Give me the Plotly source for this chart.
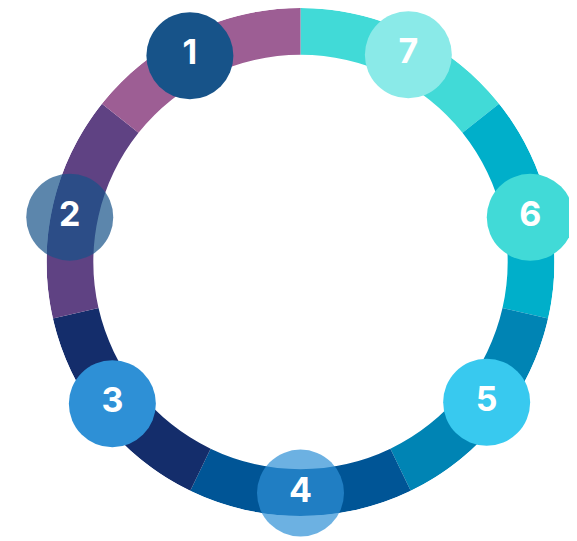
import plotly.graph_objects as go

# Ring segments, clockwise from the top (equal shares)
labels = ["7", "6", "5", "4", "3", "2", "1"]
segment_values = [1, 1, 1, 1, 1, 1, 1]
segment_colors = ["#41DAD7", "#00AFCA", "#0084B4", "#005596", "#142D6B", "#5F4283", "#9D5E94"]

# Numbered badges (angle clockwise from top in degrees, radius in ring units)
badge_angles = [27.5, 79.0, 127.0, 180.0, 233.0, 281.0, 331.8]
badge_radius = [234.5, 235.0, 234.0, 232.0, 236.5, 236.0, 235.0]
badge_colors = ["#8AEAE8", "#41DAD7", "#38C9EF", "rgba(46,144,214,0.7)",
                "#2E90D6", "rgba(23,83,137,0.7)", "#175389"]

INNER = 208
OUTER = 255

W, H = 577, 541
CX = 292.5          # polar centre in figure px (page body has an 8px margin)
RPX = 254           # polar radius in px

n = len(segment_values)
step = 360 / sum(segment_values)
seg_theta, acc = [], 0
for v in segment_values:
    seg_theta.append((acc + v / 2) * step)
    acc += v

fig = go.Figure()
fig.add_trace(go.Barpolar(
    theta=seg_theta,
    width=[v * step for v in segment_values],
    r=[OUTER - INNER] * n,
    base=INNER,
    marker=dict(color=segment_colors, line=dict(width=0)),
    hoverinfo="skip",
    showlegend=False,
))
fig.add_trace(go.Scatterpolar(
    theta=badge_angles,
    r=badge_radius,
    mode="markers+text",
    text=labels,
    textposition="middle center",
    textfont=dict(family="Inter", size=34, color="white", weight=700),
    marker=dict(size=87, color=badge_colors, line=dict(width=0)),
    cliponaxis=False,
    showlegend=False,
))

fig.update_layout(
    width=W, height=H, autosize=False,
    margin=dict(l=0, r=0, t=0, b=0),
    paper_bgcolor="white",
    polar=dict(
        domain=dict(x=[(CX - RPX) / W, (CX + RPX) / W],
                    y=[(H - 2 * RPX) / H, 1.0]),
        bgcolor="white",
        bargap=0,
        radialaxis=dict(range=[0, OUTER], visible=False, showgrid=False),
        angularaxis=dict(direction="clockwise", rotation=90,
                         showgrid=False, showline=False, showticklabels=False, ticks=""),
    ),
)

fig.write_html("out.html")
